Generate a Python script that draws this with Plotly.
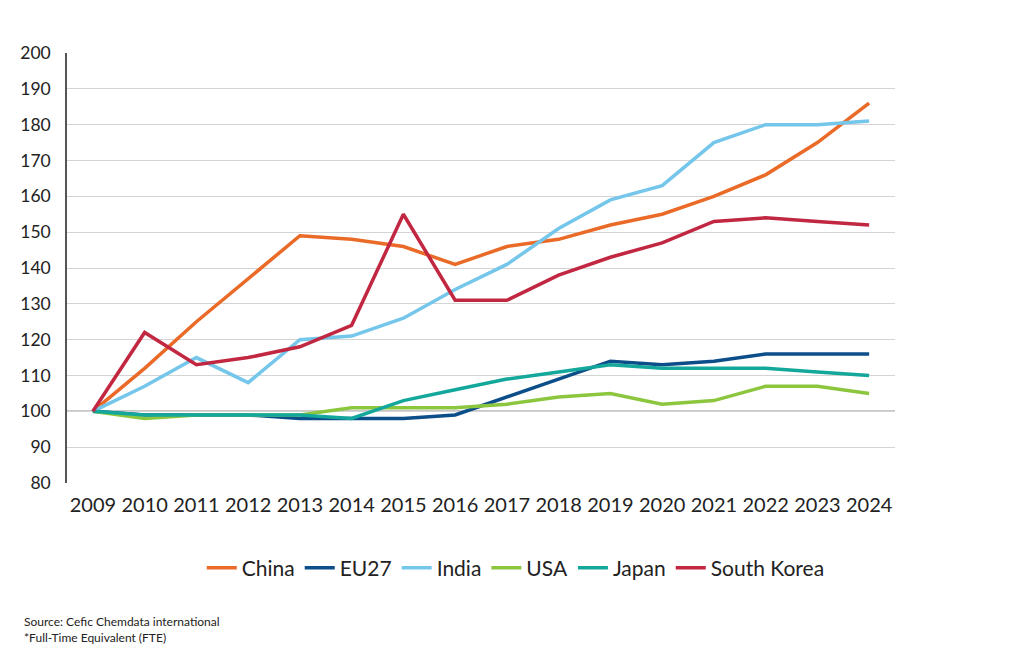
import plotly.graph_objects as go

years = list(range(2009, 2025))
china = [100, 112, 125, 137, 149, 148, 146, 141, 146, 148, 152, 155, 160, 166, 175, 186]
eu27 = [100, 99, 99, 99, 98, 98, 98, 99, 104, 109, 114, 113, 114, 116, 116, 116]
india = [100, 107, 115, 108, 120, 121, 126, 134, 141, 151, 159, 163, 175, 180, 180, 181]
usa = [100, 98, 99, 99, 99, 101, 101, 101, 102, 104, 105, 102, 103, 107, 107, 105]
japan = [100, 99, 99, 99, 99, 98, 103, 106, 109, 111, 113, 112, 112, 112, 111, 110]
korea = [100, 122, 113, 115, 118, 124, 155, 131, 131, 138, 143, 147, 153, 154, 153, 152]

series = [
    ("China", china, "#EA6A28"),
    ("EU27", eu27, "#0C4E8A"),
    ("India", india, "#74C6EA"),
    ("USA", usa, "#8CC63F"),
    ("Japan", japan, "#14A79B"),
    ("South Korea", korea, "#C22741"),
]

fig = go.Figure()
for name, vals, col in series:
    fig.add_trace(go.Scatter(x=years, y=vals, name=name, mode="lines",
                             line=dict(color=col, width=3.5)))

fig.add_hline(y=100, line=dict(color="#222222", width=1.2), layer="below")

fig.update_layout(
    width=1024, height=666,
    paper_bgcolor="white", plot_bgcolor="white",
    margin=dict(l=55, r=137, t=45, b=191),
    font=dict(family="Lato", color="#222222"),
    xaxis=dict(range=[2008.5, 2024.5], tickmode="array", tickvals=years,
               showgrid=False, zeroline=False, ticks="",
               tickfont=dict(size=20), ticklabelstandoff=8),
    yaxis=dict(range=[80, 200], dtick=10, showgrid=True, gridcolor="#d4d4d4",
               gridwidth=1.2, zeroline=False, showline=True, linecolor="#555555",
               linewidth=1.5, tickfont=dict(size=17.5), ticks="",
               ticklabelstandoff=11),
    legend=dict(orientation="h", x=0.542, xanchor="center", y=-0.198,
                yanchor="middle", font=dict(size=21), itemwidth=30,
                traceorder="normal"),
    showlegend=True,
)

fig.add_annotation(text="Source: Cefic Chemdata international<br>*Full-Time Equivalent (FTE)",
                   xref="paper", yref="paper", x=(10 - 55) / 832, y=-0.30,
                   xanchor="left", yanchor="top", align="left", showarrow=False,
                   font=dict(size=12, family="Lato", color="#222222"))

fig.write_html("out.html")
